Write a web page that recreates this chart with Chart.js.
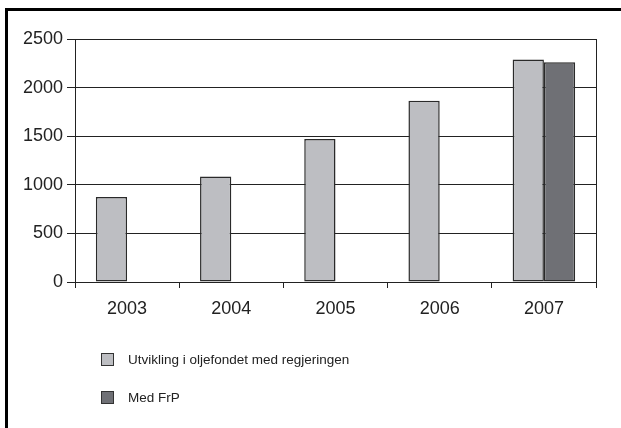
<!DOCTYPE html>
<html>
<head>
<meta charset="utf-8">
<script src="https://cdn.jsdelivr.net/npm/chart.js@4"></script>
<style>
  html, body { margin: 0; padding: 0; background: #fff; }
  #wrap { position: relative; width: 621px; height: 428px; overflow: hidden; font-family: "Liberation Sans", Arial, sans-serif; }
  #frame { position: absolute; left: 5px; top: 8px; width: 700px; height: 500px; border-top: 3px solid #000; border-left: 3px solid #000; box-sizing: border-box; }
  canvas { position: absolute; left: 0; top: 0; }
  .lg { position: absolute; left: 101px; display: flex; align-items: center; font-size: 13.5px; color: #222; white-space: nowrap; }
  .lg span.box { display: inline-block; width: 11px; height: 11px; border: 1px solid #333; margin-right: 14px; }
</style>
</head>
<body>
<div id="wrap">
  <div id="frame"></div>
  <canvas id="c" width="621" height="428"></canvas>
  <div id="legend"></div>
</div>
<script>
const categories = ["2003", "2004", "2005", "2006", "2007"];
const seriesNames = ["Utvikling i oljefondet med regjeringen", "Med FrP"];
const regjeringen = [875, 1085, 1470, 1865, 2290];
const medFrP = [null, null, null, null, 2262];
const yTicks = [0, 500, 1000, 1500, 2000, 2500];
const colors = ["#bdbec2", "#6f7075"];

const frameLines = {
  id: 'frameLines',
  afterDraw(chart) {
    const { ctx, chartArea: a } = chart;
    ctx.save();
    ctx.strokeStyle = '#222';
    ctx.lineWidth = 1;
    ctx.beginPath();
    ctx.moveTo(a.right + 0.5, a.top);
    ctx.lineTo(a.right + 0.5, a.bottom + 6);
    ctx.stroke();
    ctx.restore();
  }
};

new Chart(document.getElementById('c'), {
  type: 'bar',
  data: {
    labels: categories,
    datasets: [
      { label: seriesNames[0], data: regjeringen, backgroundColor: colors[0], borderColor: '#2a2a2a', borderWidth: 1.5, borderSkipped: false },
      { label: seriesNames[1], data: medFrP, backgroundColor: colors[1], borderColor: '#2a2a2a', borderWidth: 1.5, borderSkipped: false }
    ]
  },
  options: {
    responsive: false,
    animation: false,
    devicePixelRatio: 1,
    layout: { padding: { left: 0, top: 39, right: 25, bottom: 96 } },
    plugins: { legend: { display: false }, tooltip: { enabled: false } },
    datasets: { bar: { categoryPercentage: 0.6, barPercentage: 1.0, grouped: true } },
    scales: {
      x: {
        grid: { drawOnChartArea: false, drawTicks: true, tickLength: 6, color: '#222', offset: true },
        border: { color: '#222', width: 1 },
        ticks: { color: '#222', font: { family: 'Liberation Sans', size: 18 }, padding: 10 },
        afterFit(s) { s.height = 50; }
      },
      y: {
        min: 0, max: 2500,
        afterBuildTicks(s) { s.ticks = yTicks.map(v => ({ value: v })); },
        grid: { color: '#222', lineWidth: 1, tickLength: 8 },
        border: { color: '#222', width: 1 },
        ticks: { color: '#222', font: { family: 'Liberation Sans', size: 18 }, padding: 4, callback: v => String(v) },
        afterFit(s) { s.width = 75; }
      }
    }
  },
  plugins: [frameLines]
});

const legend = document.getElementById('legend');
const legendTops = [352, 390];
seriesNames.forEach((name, i) => {
  const d = document.createElement('div');
  d.className = 'lg';
  d.style.top = legendTops[i] + 'px';
  d.innerHTML = '<span class="box" style="background:' + colors[i] + '"></span>';
  d.appendChild(document.createTextNode(name));
  legend.appendChild(d);
});
</script>
</body>
</html>
